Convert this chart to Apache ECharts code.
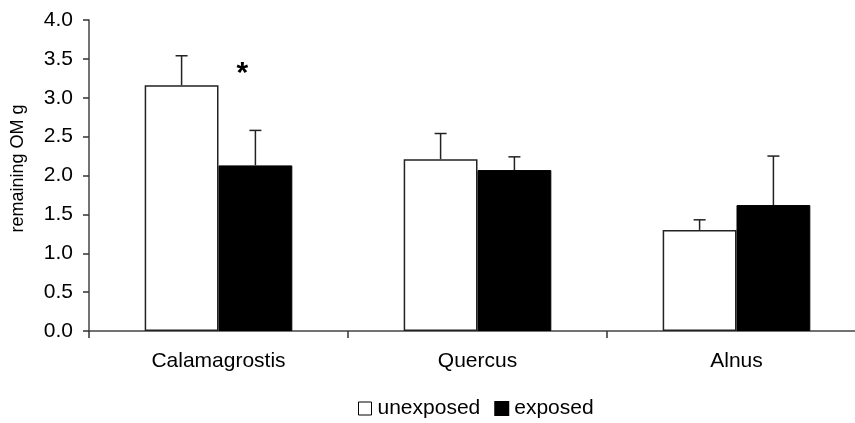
<!DOCTYPE html>
<html>
<head>
<meta charset="utf-8">
<script src="https://cdn.jsdelivr.net/npm/echarts@6/dist/echarts.min.js"></script>
<style>html,body{margin:0;padding:0;background:#fff;}#c{width:855px;height:423px;}</style>
</head>
<body>
<div id="c"></div>
<script>
const categories = ['Calamagrostis', 'Quercus', 'Alnus'];
const unexposed = [3.16, 2.21, 1.30];
const unexposedErr = [3.54, 2.54, 1.43];
const exposed = [2.13, 2.07, 1.62];
const exposedErr = [2.58, 2.24, 2.25];
const yTicks = [0, 0.5, 1, 1.5, 2, 2.5, 3, 3.5, 4];

const chart = echarts.init(document.getElementById('c'));
const font = 'Liberation Sans, Arial, sans-serif';

function errSeries(vals, tops, offsetIdx) {
  return {
    type: 'custom',
    name: 'err' + offsetIdx,
    silent: true,
    z: 5,
    renderItem: function (params, api) {
      const ci = api.value(0);
      const base = api.coord([ci, api.value(1)]);
      const top = api.coord([ci, api.value(2)]);
      const bw = api.size([1, 0])[0];
      const barW = bw * 0.57 / 2;
      const x = base[0] + (offsetIdx === 0 ? -barW / 2 : barW / 2);
      const cap = 6;
      return {
        type: 'group',
        children: [
          {type: 'line', shape: {x1: x, y1: base[1], x2: x, y2: top[1]}, style: {stroke: '#222', lineWidth: 1.5}},
          {type: 'line', shape: {x1: x - cap, y1: top[1], x2: x + cap, y2: top[1]}, style: {stroke: '#222', lineWidth: 1.5}}
        ]
      };
    },
    data: vals.map((v, i) => [i, v, tops[i]])
  };
}

chart.setOption({
  animation: false,
  grid: {left: 89, width: 777, top: 20, height: 311, outerBoundsMode: 'none', containLabel: false},
  legend: {
    top: 398,
    left: 358,
    padding: 0,
    itemWidth: 13,
    itemHeight: 13,
    itemGap: 14,
    textStyle: {fontFamily: font, fontSize: 21, color: '#000', padding: [0, 0, 0, 1]},
    data: [
      {name: 'unexposed', icon: 'rect', itemStyle: {color: '#fff', borderColor: '#000', borderWidth: 1}},
      {name: 'exposed', icon: 'rect', itemStyle: {color: '#000'}}
    ]
  },
  xAxis: {
    type: 'category',
    data: categories,
    axisLine: {lineStyle: {color: '#444', width: 1.5}},
    axisTick: {show: true, length: 7, interval: 0, lineStyle: {color: '#333', width: 1.5}},
    axisLabel: {fontFamily: font, fontSize: 21, color: '#000', margin: 20}
  },
  yAxis: {
    type: 'value',
    min: 0, max: 4, interval: 0.5,
    name: 'remaining OM g',
    nameLocation: 'middle',
    nameGap: 62,
    nameTextStyle: {fontFamily: font, fontSize: 18, color: '#000', padding: [0, 0, 0, 14]},
    splitLine: {show: false},
    axisLine: {show: true, lineStyle: {color: '#444', width: 1.5}},
    axisTick: {show: true, length: 6, lineStyle: {color: '#333', width: 1.5}},
    axisLabel: {fontFamily: font, fontSize: 21, color: '#000', margin: 16,
      formatter: v => yTicks.includes(v) ? v.toFixed(1) : ''}
  },
  series: [
    {
      name: 'unexposed', type: 'bar', data: unexposed,
      barCategoryGap: '43%', barGap: '0%',
      itemStyle: {color: '#fff', borderColor: '#222', borderWidth: 1.5}
    },
    {
      name: 'exposed', type: 'bar', data: exposed,
      barCategoryGap: '43%', barGap: '0%',
      itemStyle: {color: '#000', borderColor: '#000', borderWidth: 1},
      markPoint: {
        symbol: 'circle', symbolSize: 1, itemStyle: {color: 'transparent'},
        data: [{coord: ['Calamagrostis', 3.38], label: {show: true, formatter: '*', fontSize: 30, fontWeight: 'bold', fontFamily: font, color: '#000', offset: [-13, 6]}}]
      }
    },
    errSeries(unexposed, unexposedErr, 0),
    errSeries(exposed, exposedErr, 1)
  ]
});
</script>
</body>
</html>
